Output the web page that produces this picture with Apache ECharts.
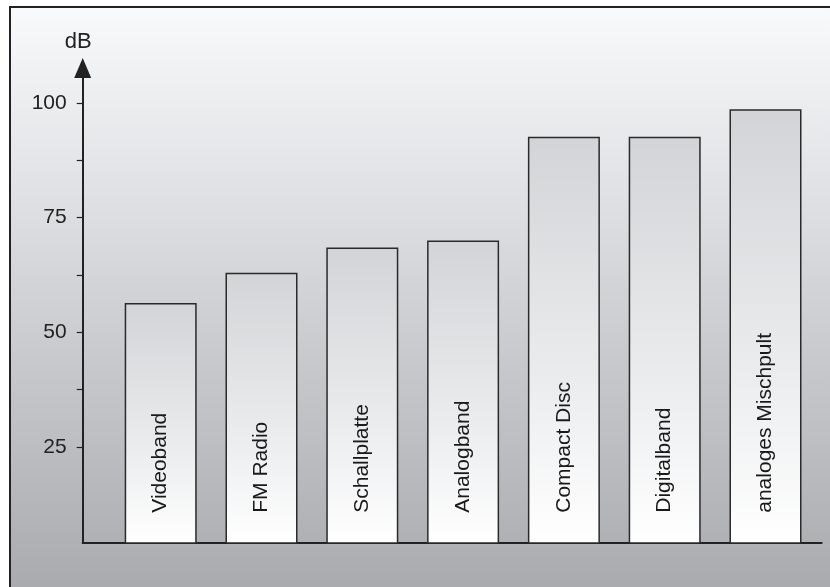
<!DOCTYPE html>
<html>
<head>
<meta charset="utf-8">
<script src="https://cdn.jsdelivr.net/npm/echarts@6/dist/echarts.min.js"></script>
<style>
html,body{margin:0;padding:0;background:#fff;}
#chart{width:830px;height:587px;}
</style>
</head>
<body>
<div id="chart"></div>
<script>
var categories = ['Videoband', 'FM Radio', 'Schallplatte', 'Analogband', 'Compact Disc', 'Digitalband', 'analoges Mischpult'];
var values = [56.4, 63.0, 68.5, 70.0, 92.6, 92.6, 98.6];
var tickLabels = [25, 50, 75, 100];
var tickMarks = [25, 37.5, 50, 62.5, 75, 87.5, 100];
var axisName = 'dB';

var yMin = 4.07, yMax = 107.6;
var font = '"Liberation Sans", Arial, sans-serif';

var chart = echarts.init(document.getElementById('chart'), null, {renderer: 'canvas'});
chart.setOption({
  animation: false,
  graphic: [
    {
      type: 'rect', z: -100, silent: true,
      shape: {x: 10, y: 7, width: 830, height: 600},
      style: {
        fill: new echarts.graphic.LinearGradient(0, 0, 0, 1, [
          {offset: 0, color: '#f9fafc'},
          {offset: 0.3, color: '#e1e2e5'},
          {offset: 0.6, color: '#c6c8cb'},
          {offset: 1, color: '#a6a8ab'}
        ]),
        stroke: '#222',
        lineWidth: 2
      }
    }
  ],
  grid: [
    {left: 110.3, width: 705.6, top: 68, bottom: 44},
    {left: 82.7, width: 739, top: 68, bottom: 44}
  ],
  xAxis: [
    {
      type: 'category', gridIndex: 0, data: categories,
      axisLine: {show: false}, axisTick: {show: false}, axisLabel: {show: false}, splitLine: {show: false}
    },
    {
      type: 'value', gridIndex: 1, min: 0, max: 1,
      axisLine: {show: true, lineStyle: {color: '#222', width: 2}},
      axisTick: {show: false}, axisLabel: {show: false}, splitLine: {show: false}
    }
  ],
  yAxis: [
    {
      type: 'value', gridIndex: 0, min: yMin, max: yMax,
      axisLine: {show: false}, axisTick: {show: false}, axisLabel: {show: false}, splitLine: {show: false}
    },
    {
      type: 'value', gridIndex: 1, min: yMin, max: yMax,
      name: axisName,
      nameLocation: 'end',
      nameGap: 15,
      nameTextStyle: {color: '#222', fontSize: 22, fontFamily: font, align: 'center', padding: [0, 9, 0, 0]},
      axisLine: {show: true, symbol: ['none', 'triangle'], symbolSize: [17, 20], lineStyle: {color: '#222', width: 2}},
      axisTick: {show: true, length: 6, customValues: tickMarks, lineStyle: {color: '#222', width: 1.2}},
      axisLabel: {show: true, customValues: tickLabels, color: '#222', fontSize: 21, fontFamily: font, margin: 16},
      splitLine: {show: false}
    }
  ],
  series: [
    {
      type: 'bar',
      xAxisIndex: 0, yAxisIndex: 0,
      data: values,
      barWidth: 72,
      itemStyle: {
        color: new echarts.graphic.LinearGradient(0, 0, 0, 1, [
          {offset: 0, color: '#d3d4d7'},
          {offset: 0.6, color: '#ebecee'},
          {offset: 1, color: '#ffffff'}
        ]),
        borderColor: '#2a2a2a',
        borderWidth: 1.5
      },
      label: {
        show: true,
        position: 'insideBottom',
        rotate: 90,
        align: 'left',
        verticalAlign: 'middle',
        distance: 31,
        color: '#1a1a1a',
        fontSize: 21,
        fontFamily: font,
        formatter: function (p) { return p.name; }
      }
    }
  ]
});
</script>
</body>
</html>
